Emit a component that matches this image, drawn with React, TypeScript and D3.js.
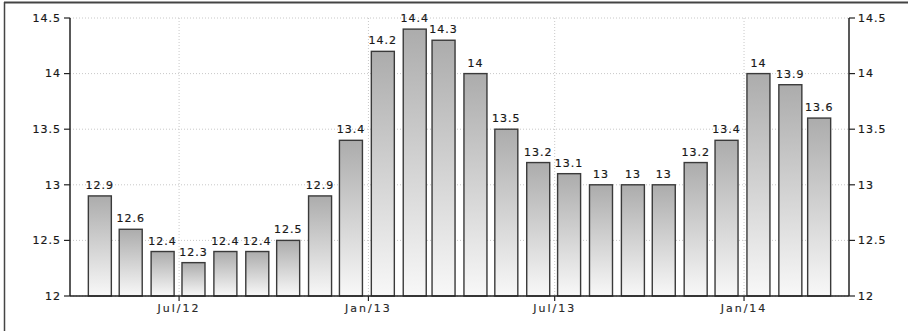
import React from "react";
import * as d3 from "d3";

const months: string[] = [
  "2012-04", "2012-05", "2012-06", "2012-07", "2012-08", "2012-09",
  "2012-10", "2012-11", "2012-12", "2013-01", "2013-02", "2013-03",
  "2013-04", "2013-05", "2013-06", "2013-07", "2013-08", "2013-09",
  "2013-10", "2013-11", "2013-12", "2014-01", "2014-02", "2014-03",
];
const values: number[] = [
  12.9, 12.6, 12.4, 12.3, 12.4, 12.4, 12.5, 12.9, 13.4, 14.2, 14.4, 14.3,
  14.0, 13.5, 13.2, 13.1, 13.0, 13.0, 13.0, 13.2, 13.4, 14.0, 13.9, 13.6,
];
const yTicks: number[] = [12, 12.5, 13, 13.5, 14, 14.5];
const xTickDates: string[] = ["2012-07-01", "2013-01-01", "2013-07-01", "2014-01-01"];
const xTickLabels: string[] = ["Jul/12", "Jan/13", "Jul/13", "Jan/14"];

const W = 908;
const H = 331;
const left = 70;
const right = 849;
const top = 18;
const bottom = 296;
const barW = 23;
const font = "'DejaVu Sans', Verdana, sans-serif";

const parse = d3.utcParse("%Y-%m-%d");

export default function App() {
  const x = d3
    .scaleUtc()
    .domain([parse("2012-03-17")!, parse("2014-04-13")!])
    .range([left, right]);
  const y = d3.scaleLinear().domain([12, 14.5]).range([bottom, top]);
  const barCenter = (m: string) => x(parse(m + "-15")!);
  const fmt = (v: number) => d3.format("~g")(v);

  return (
    <svg
      width={W}
      height={H}
      style={{ position: "absolute", left: 0, top: 0, background: "#fff" }}
    >
      <defs>
        <linearGradient id="barFill" x1="0" y1="0" x2="0" y2="1">
          <stop offset="0%" stopColor="#acacac" />
          <stop offset="100%" stopColor="#f8f8f8" />
        </linearGradient>
      </defs>
      <rect x={0} y={0} width={W} height={H} fill="#fff" />
      {/* outer frame */}
      <line x1={4} x2={W} y1={2.5} y2={2.5} stroke="#444" strokeWidth={2} />
      <line x1={4.5} x2={4.5} y1={2} y2={H} stroke="#444" strokeWidth={1.5} />

      {/* grid */}
      {yTicks.map((t) => (
        <line
          key={"gy" + t}
          x1={left}
          x2={right}
          y1={y(t)}
          y2={y(t)}
          stroke="#c8c8c8"
          strokeWidth={1}
          strokeDasharray="1,2"
        />
      ))}
      {xTickDates.map((d) => (
        <line
          key={"gx" + d}
          x1={x(parse(d)!)}
          x2={x(parse(d)!)}
          y1={top}
          y2={bottom}
          stroke="#c8c8c8"
          strokeWidth={1}
          strokeDasharray="1,2"
        />
      ))}

      {/* bars */}
      {months.map((m, i) => {
        const cx = barCenter(m);
        const yt = y(values[i]);
        return (
          <g key={m}>
            <rect
              x={cx - barW / 2}
              y={yt}
              width={barW}
              height={bottom - yt}
              fill="url(#barFill)"
              stroke="#3a3a3a"
              strokeWidth={1.4}
            />
            <text
              x={cx}
              y={yt - 7}
              textAnchor="middle"
              fontFamily={font}
              fontSize={11}
              letterSpacing={1}
              fill="#1a1a1a"
              stroke="#1a1a1a"
              strokeWidth={0.2}
            >
              {fmt(values[i])}
            </text>
          </g>
        );
      })}

      {/* left axis */}
      <line x1={left} x2={left} y1={top} y2={bottom} stroke="#222" strokeWidth={1.5} />
      {yTicks.map((t) => (
        <g key={"ly" + t}>
          <line x1={left - 6} x2={left} y1={y(t)} y2={y(t)} stroke="#222" strokeWidth={1.2} />
          <text
            x={left - 9}
            y={y(t)}
            dy="0.35em"
            textAnchor="end"
            fontFamily={font}
            fontSize={11}
            letterSpacing={1}
            fill="#1a1a1a"
            stroke="#1a1a1a"
            strokeWidth={0.2}
          >
            {fmt(t)}
          </text>
        </g>
      ))}

      {/* right axis */}
      <line x1={right} x2={right} y1={top} y2={bottom} stroke="#222" strokeWidth={1.5} />
      {yTicks.map((t) => (
        <g key={"ry" + t}>
          <line x1={right} x2={right + 6} y1={y(t)} y2={y(t)} stroke="#222" strokeWidth={1.2} />
          <text
            x={right + 9}
            y={y(t)}
            dy="0.35em"
            textAnchor="start"
            fontFamily={font}
            fontSize={11}
            letterSpacing={1}
            fill="#1a1a1a"
            stroke="#1a1a1a"
            strokeWidth={0.2}
          >
            {fmt(t)}
          </text>
        </g>
      ))}

      {/* bottom axis */}
      <line x1={left} x2={right} y1={bottom} y2={bottom} stroke="#222" strokeWidth={1.5} />
      {xTickDates.map((d, i) => {
        const px = x(parse(d)!);
        return (
          <g key={"bx" + d}>
            <line x1={px} x2={px} y1={bottom} y2={bottom + 5} stroke="#222" strokeWidth={1.2} />
            <text
              x={px}
              y={bottom + 16}
              textAnchor="middle"
              fontFamily={font}
              fontSize={11}
              letterSpacing={2}
              fill="#2a2a2a"
              stroke="#2a2a2a"
              strokeWidth={0.15}
            >
              {xTickLabels[i]}
            </text>
          </g>
        );
      })}
    </svg>
  );
}
